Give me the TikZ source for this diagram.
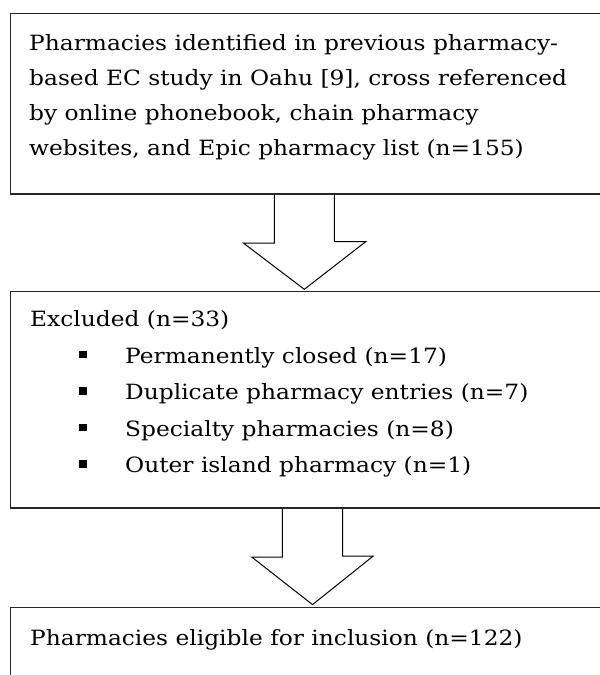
\documentclass[tikz,border=0pt]{standalone}
\usepackage{fontspec}
\setmainfont{DejaVu Serif}[FakeStretch=1.11]
\tikzset{
  box/.style={draw=black!85, line width=1.3pt, rectangle, inner sep=0pt, anchor=north west},
  txt/.style={anchor=base west, inner sep=0pt, text=black, font=\fontsize{21}{35}\selectfont},
  blt/.style={fill=black, inner sep=0pt, minimum size=7.5pt, rectangle},
  barrow/.style={draw=black, line width=1pt, line join=miter}
}
\begin{document}
\begin{tikzpicture}[x=1pt,y=-1pt]
\useasboundingbox (0,0) rectangle (600,675);
\clip (0,0) rectangle (600,675);
% boxes
\node[box, minimum width=700pt, minimum height=180.3pt] (b1) at (9.5,13) {};
\node[box, minimum width=700pt, minimum height=216.3pt] (b2) at (9.5,291) {};
\node[box, minimum width=700pt, minimum height=150pt] (b3) at (9.5,607) {};
% box 1 text
\node[txt] (t11) at (29,50) {Pharmacies identified in previous pharmacy-};
\node[txt] (t12) at (29,85.3) {based EC study in Oahu [9], cross referenced};
\node[txt] (t13) at (29,120.6) {by online phonebook, chain pharmacy};
\node[txt] (t14) at (29,155.9) {websites, and Epic pharmacy list (n=155)};
% box 2 text
\node[txt] (t20) at (30,326.6) {Excluded (n=33)};
\node[txt] (t21) at (125,363) {Permanently closed (n=17)};
\node[txt] (t22) at (125,399.5) {Duplicate pharmacy entries (n=7)};
\node[txt] (t23) at (125,436) {Specialty pharmacies (n=8)};
\node[txt] (t24) at (125,472.5) {Outer island pharmacy (n=1)};
\node[blt] (p1) at (83,354.5) {};
\node[blt] (p2) at (83,391) {};
\node[blt] (p3) at (83,427.5) {};
\node[blt] (p4) at (83,464) {};
% box 3 text
\node[txt] (t31) at (30,645) {Pharmacies eligible for inclusion (n=122)};
% block arrows
\coordinate (a1s) at (b1.south west -| 304.3,0);
\coordinate (a1e) at (b2.north west -| 304.3,0);
\draw[barrow] ([xshift=-30pt]a1s) -- ++(0,48.4) -- ++(-31,0) -- ([yshift=1.7pt]a1e)
  -- ++(61.4,-47.6) -- ++(-31.4,0) -- ([xshift=30pt]a1s);
\coordinate (a2s) at (b2.south west -| 312.5,0);
\coordinate (a2e) at (b3.north west -| 312.5,0);
\draw[barrow] ([xshift=-30.2pt]a2s) -- ++(0,48.4) -- ++(-30.6,0) -- ([yshift=2.4pt]a2e)
  -- ++(60.8,-48.6) -- ++(-30.6,0) -- ([xshift=30.2pt]a2s);
\end{tikzpicture}
\end{document}
